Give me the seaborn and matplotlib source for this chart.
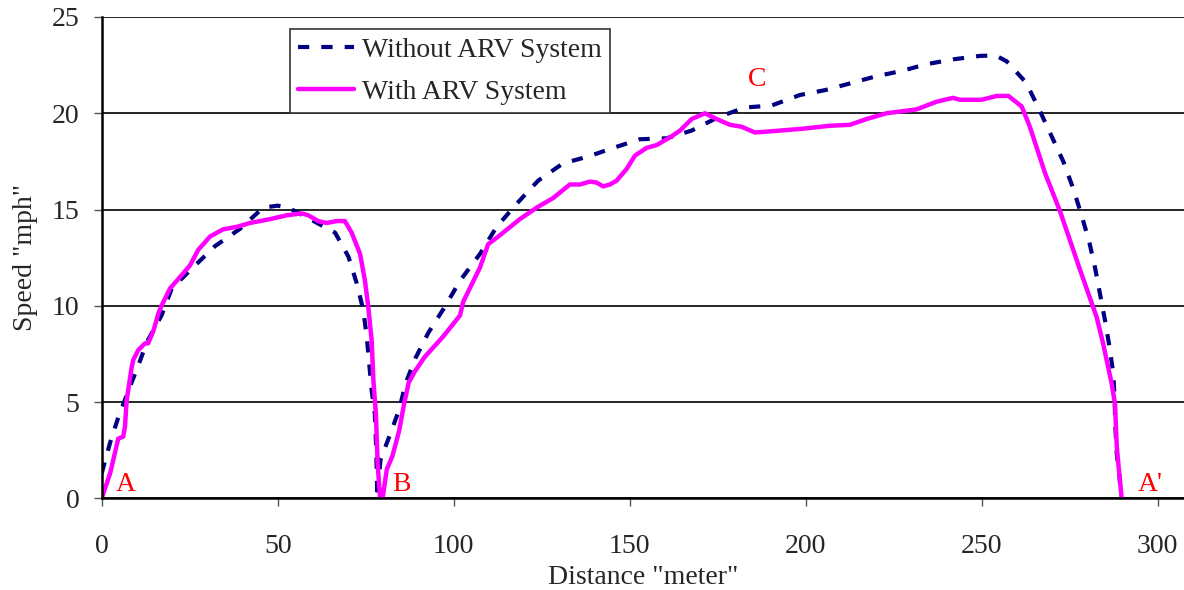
import seaborn as sns
import matplotlib.pyplot as plt
from matplotlib.lines import Line2D
import pandas as pd

sns.set_style("white")
plt.rcParams['font.family'] = ['Liberation Serif', 'DejaVu Serif']

# Speed profile without the ARV system (dashed)
dist_without = [0, 2.4, 4.7, 7.6, 10.4, 12.8, 17.0, 19.9, 26.0, 32.2, 39.3, 45.9, 50.0,
                53.0, 59.2, 66.3, 70.1, 72.4, 74.3, 75.3, 76.7, 77.6, 78.0, 78.3, 79.2,
                81.9, 84.5, 86.4, 89.2, 92.8, 97.5, 101.8, 107.5, 112.2, 117.9, 124.0,
                131.1, 138.2, 145.3, 152.9, 160.5, 167.6, 175.2, 182.8, 190.3, 198.4,
                205.5, 212.6, 219.6, 227.3, 234.4, 241.9, 249.5, 254.0, 257.1, 262.6,
                266.1, 269.9, 273.2, 276.0, 278.4, 280.6, 282.2, 283.6, 285.0, 286.3,
                287.4, 287.8, 288.0, 288.4, 289.2, 289.6]
speed_without = [1.3, 2.9, 4.2, 5.6, 6.9, 8.1, 9.5, 10.9, 12.0, 13.1, 14.0, 15.1, 15.2,
                 15.1, 14.5, 13.8, 12.55, 11.2, 9.8, 8.4, 5.6, 4.4, 2.5, 0.0, 2.0,
                 3.3, 4.6, 6.0, 7.3, 8.6, 9.95, 11.3, 12.7, 14.1, 15.3, 16.5,
                 17.4, 17.75, 18.2, 18.65, 18.7, 19.1, 19.8, 20.3, 20.4, 20.95,
                 21.2, 21.55, 21.9, 22.2, 22.55, 22.8, 22.98, 23.0, 22.7, 21.6,
                 20.3, 18.8, 17.5, 16.1, 14.7, 13.3, 12.0, 10.65, 9.3, 7.9,
                 6.5, 5.1, 3.7, 2.3, 1.1, 0.0]

# Speed profile with the ARV system (solid)
dist_with = [0, 2.4, 4.7, 6.1, 6.6, 7.1, 8.5, 9.0, 10.4, 12.3, 13.2, 14.7, 16.1, 17.0,
             19.4, 21.8, 25.1, 27.4, 30.8, 34.5, 38.4, 42.1, 47.8, 52.6, 56.8, 58.7,
             61.5, 63.9, 66.8, 69.1, 71.0, 73.4, 74.8, 75.7, 76.7, 77.2, 77.9, 78.4,
             79.1, 79.8, 81.0, 82.6, 84.5, 85.8, 87.2, 89.0, 91.8, 97.0, 101.8, 102.7,
             107.5, 109.8, 112.7, 118.8, 123.6, 128.3, 133.0, 135.9, 138.7, 140.6,
             142.5, 144.4, 146.3, 149.1, 151.5, 154.8, 157.7, 161.9, 164.3, 167.6,
             171.4, 174.7, 178.5, 181.8, 185.6, 192.7, 199.3, 206.9, 212.6, 217.3,
             223.0, 231.5, 237.2, 241.9, 243.8, 250.0, 254.3, 257.6, 261.4, 263.7,
             268.0, 272.3, 277.9, 282.7, 284.5, 286.9, 287.9, 288.4, 289.1, 289.8]
speed_with = [0.0, 1.3, 3.1, 3.2, 3.7, 5.1, 6.8, 7.2, 7.7, 8.05, 8.05, 8.7, 9.6, 10.0,
              10.9, 11.4, 12.1, 12.9, 13.6, 13.97, 14.1, 14.3, 14.5, 14.7, 14.8, 14.7,
              14.4, 14.3, 14.4, 14.4, 13.8, 12.7, 11.3, 10.0, 8.2, 6.1, 4.4, 1.8,
              0.0, 0.0, 1.5, 2.2, 3.5, 4.8, 6.0, 6.6, 7.35, 8.4, 9.5, 10.2,
              12.0, 13.2, 13.6, 14.5, 15.1, 15.6, 16.3, 16.3, 16.45, 16.4,
              16.2, 16.3, 16.5, 17.1, 17.8, 18.2, 18.35, 18.8, 19.1, 19.7,
              20.0, 19.7, 19.4, 19.3, 19.0, 19.1, 19.2, 19.35, 19.4, 19.7,
              20.0, 20.2, 20.6, 20.8, 20.7, 20.7, 20.9, 20.9, 20.35, 19.3,
              16.9, 14.9, 11.9, 9.4, 8.05, 6.0, 4.9, 2.7, 1.3, 0.0]

# Point labels on the route
point_labels = ["A", "B", "C", "A'"]
point_x = [4.0, 82.4, 183.6, 294.4]
point_y = [0.05, 0.05, 21.1, 0.05]

df_without = pd.DataFrame({"dist": dist_without, "speed": speed_without})
df_with = pd.DataFrame({"dist": dist_with, "speed": speed_with})

fig = plt.figure(figsize=(11.84, 5.9), dpi=100)
ax = fig.add_axes([0.0859, 0.1554, 0.9141, 0.8158])

navy = "#000080"
magenta = "#FF00FF"

sns.lineplot(data=df_without, x="dist", y="speed", sort=False, estimator=None,
             color=navy, linewidth=3.0, linestyle=(0, (2.7, 2.9)), ax=ax)
sns.lineplot(data=df_with, x="dist", y="speed", sort=False, estimator=None,
             color=magenta, linewidth=3.2, ax=ax)

for lab, px, py in zip(point_labels, point_x, point_y):
    ax.text(px, py, lab, color="red", fontsize=20, ha="left", va="bottom")

ax.set_xlim(0, 307.5)
ax.set_ylim(0, 25)
ax.set_xticks([0, 50, 100, 150, 200, 250, 300])
ax.set_yticks([0, 5, 10, 15, 20, 25])
ax.yaxis.grid(True, color="black", linewidth=1.2)
ax.xaxis.grid(False)
ax.set_axisbelow(True)

for side in ["top", "right"]:
    ax.spines[side].set_visible(False)
for side in ["left", "bottom"]:
    ax.spines[side].set_color("black")
    ax.spines[side].set_linewidth(1.8)

ax.tick_params(axis="both", direction="out", length=6, width=1, color="#555555",
               labelsize=20, bottom=True, left=True)
ax.tick_params(axis="x", pad=20)
ax.tick_params(axis="y", pad=10)

ax.set_xlabel('Distance "meter"', fontsize=20, labelpad=4)
ax.set_ylabel('Speed "mph"', fontsize=20, labelpad=10)

handles = [
    Line2D([], [], color=navy, linewidth=3.0, linestyle=(0, (2.7, 2.9))),
    Line2D([], [], color=magenta, linewidth=3.2),
]
leg = ax.legend(handles, ["Without ARV System", "With ARV System"],
                loc="upper left", bbox_to_anchor=(0.174, 0.975), fontsize=20,
                frameon=True, fancybox=False, framealpha=1, edgecolor="#333333",
                handlelength=2.0, handletextpad=0.3, borderpad=0.3,
                labelspacing=0.6, borderaxespad=0)
leg.get_frame().set_linewidth(1.2)

plt.savefig("out.png", dpi=100)
plt.close(fig)
